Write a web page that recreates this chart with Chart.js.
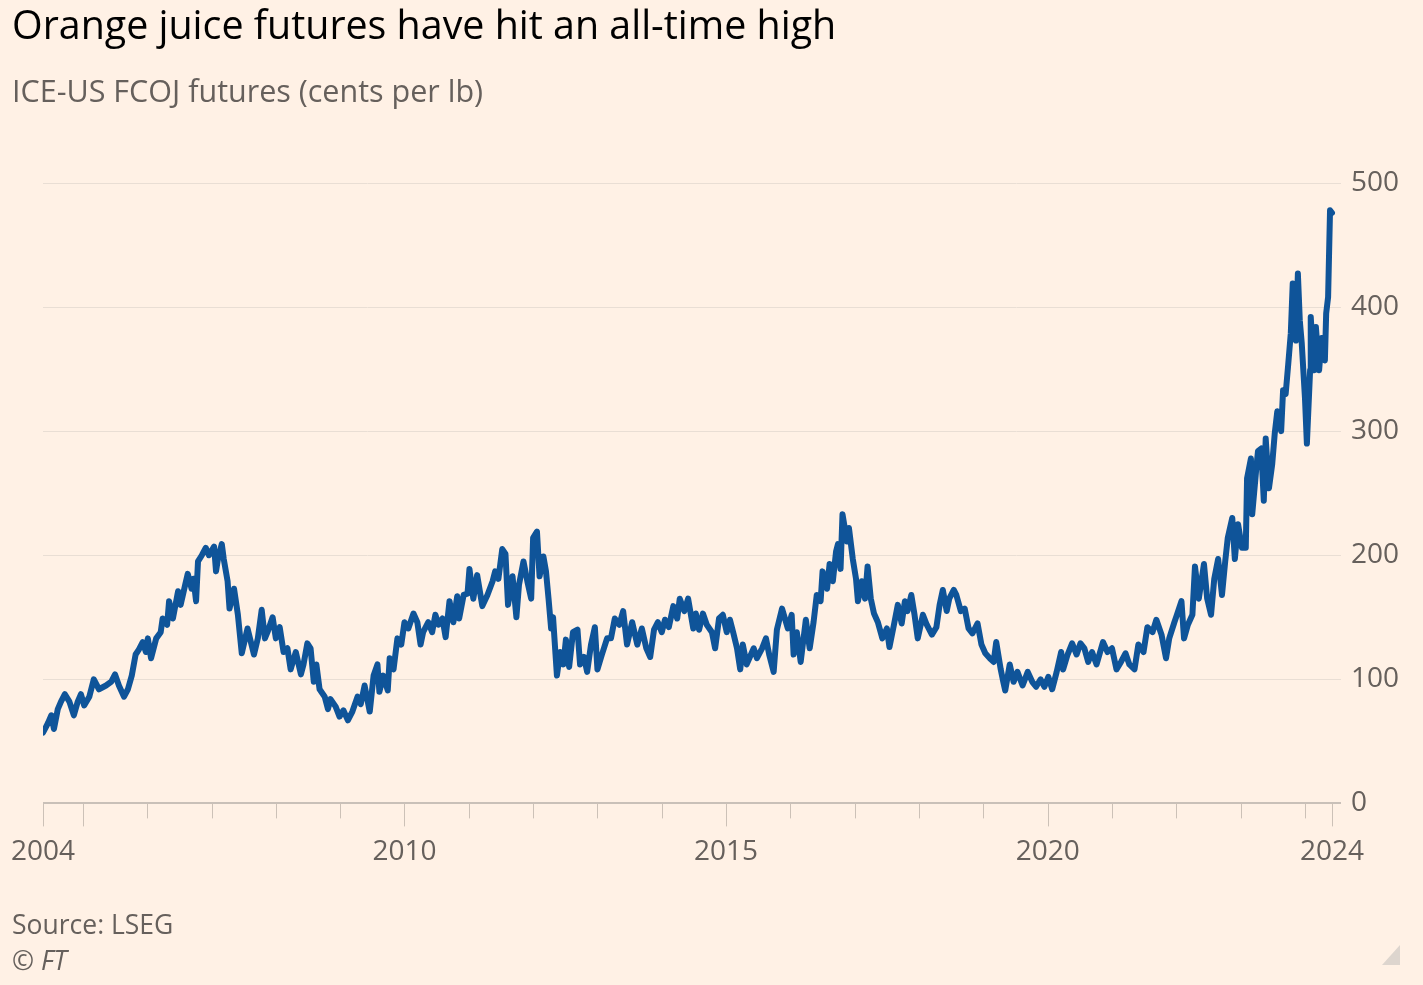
<!DOCTYPE html>
<html lang="en">
<head>
  <meta charset="UTF-8">
  <title>Orange juice futures</title>
  <style>
    body {
      margin: 0;
      width: 1423px;
      height: 985px;
      background: #FFF1E5;
      font-family: "Open Sans", sans-serif;
      overflow: hidden;
      position: relative;
    }
    h1 {
      position: absolute;
      left: 12px;
      top: 0;
      margin: 0;
      font-size: 39.4px;
      font-weight: 400;
      color: #000;
      line-height: 48px;
    }
    #sub {
      position: absolute;
      left: 12px;
      top: 70px;
      font-size: 30.5px;
      color: #66605C;
      line-height: 40px;
    }
    #source {
      position: absolute;
      left: 12px;
      top: 906px;
      font-size: 26.5px;
      color: #66605C;
      line-height: 36px;
    }
    #ft {
      position: absolute;
      left: 12px;
      top: 942px;
      font-size: 26.5px;
      font-style: italic;
      color: #66605C;
      line-height: 36px;
    }
    #corner {
      position: absolute;
      left: 1382px;
      top: 945px;
      width: 0;
      height: 0;
      border-left: 18px solid transparent;
      border-bottom: 20px solid #DDD5CE;
    }
    #wrap {
      position: absolute;
      left: 0;
      top: 0;
      width: 1423px;
      height: 985px;
    }
  </style>
</head>
<body>
  <div id="wrap"><canvas id="chart"></canvas></div>
  <h1>Orange juice futures have hit an all-time high</h1>
  <div id="sub">ICE-US FCOJ futures (cents per lb)</div>
  <div id="source">Source: LSEG</div>
  <div id="ft">© FT</div>
  <div id="corner"></div>

  <script src="https://cdn.jsdelivr.net/npm/chart.js"></script>
  <script>
    // decimal years and prices (cents per lb)
    const years = [
      2004.38, 2004.46, 2004.51, 2004.55, 2004.61, 2004.66, 2004.72, 2004.79, 2004.86, 2004.92,
      2004.97, 2005.02, 2005.10, 2005.17, 2005.25, 2005.36, 2005.44, 2005.50, 2005.56, 2005.64,
      2005.70, 2005.76, 2005.82, 2005.87, 2005.93, 2005.98, 2006.01, 2006.06, 2006.14, 2006.21,
      2006.24, 2006.31, 2006.34, 2006.40, 2006.48, 2006.52, 2006.59, 2006.63, 2006.69, 2006.72,
      2006.76, 2006.79, 2006.85, 2006.91, 2006.96, 2007.04, 2007.07, 2007.10, 2007.16, 2007.19,
      2007.25, 2007.28, 2007.35, 2007.41, 2007.47, 2007.56, 2007.66, 2007.72, 2007.78, 2007.83,
      2007.87, 2007.95, 2008.00, 2008.06, 2008.12, 2008.18, 2008.23, 2008.31, 2008.39, 2008.43,
      2008.49, 2008.54, 2008.59, 2008.63, 2008.68, 2008.76, 2008.81, 2008.85, 2008.93, 2008.99,
      2009.05, 2009.12, 2009.19, 2009.27, 2009.32, 2009.38, 2009.46, 2009.52, 2009.58, 2009.61,
      2009.67, 2009.74, 2009.77, 2009.83, 2009.89, 2009.95, 2010.00, 2010.06, 2010.14, 2010.20,
      2010.25, 2010.29, 2010.37, 2010.43, 2010.48, 2010.53, 2010.59, 2010.64, 2010.70, 2010.76,
      2010.82, 2010.85, 2010.92, 2010.98, 2011.01, 2011.07, 2011.13, 2011.21, 2011.29, 2011.37,
      2011.41, 2011.46, 2011.52, 2011.57, 2011.61, 2011.68, 2011.74, 2011.78, 2011.85, 2011.91,
      2011.97, 2012.00, 2012.06, 2012.10, 2012.16, 2012.20, 2012.24, 2012.28, 2012.31, 2012.37,
      2012.42, 2012.47, 2012.51, 2012.56, 2012.62, 2012.69, 2012.73, 2012.79, 2012.84, 2012.90,
      2012.96, 2013.00, 2013.07, 2013.15, 2013.21, 2013.27, 2013.34, 2013.40, 2013.46, 2013.54,
      2013.62, 2013.69, 2013.76, 2013.82, 2013.88, 2013.94, 2014.00, 2014.05, 2014.11, 2014.18,
      2014.24, 2014.28, 2014.35, 2014.41, 2014.49, 2014.53, 2014.58, 2014.64, 2014.70, 2014.78,
      2014.83, 2014.89, 2014.95, 2015.01, 2015.06, 2015.11, 2015.17, 2015.22, 2015.26, 2015.32,
      2015.37, 2015.43, 2015.48, 2015.56, 2015.62, 2015.67, 2015.74, 2015.79, 2015.87, 2015.91,
      2015.96, 2016.02, 2016.05, 2016.10, 2016.16, 2016.24, 2016.30, 2016.36, 2016.41, 2016.47,
      2016.50, 2016.57, 2016.61, 2016.66, 2016.71, 2016.74, 2016.78, 2016.81, 2016.88, 2016.91,
      2016.97, 2017.02, 2017.05, 2017.11, 2017.16, 2017.20, 2017.25, 2017.30, 2017.36, 2017.43,
      2017.50, 2017.54, 2017.61, 2017.67, 2017.73, 2017.78, 2017.82, 2017.88, 2017.93, 2017.98,
      2018.06, 2018.12, 2018.20, 2018.27, 2018.32, 2018.37, 2018.43, 2018.47, 2018.54, 2018.58,
      2018.65, 2018.71, 2018.77, 2018.83, 2018.91, 2018.97, 2019.03, 2019.10, 2019.16, 2019.20,
      2019.27, 2019.31, 2019.34, 2019.41, 2019.47, 2019.53, 2019.61, 2019.69, 2019.76, 2019.82,
      2019.89, 2019.95, 2020.01, 2020.07, 2020.14, 2020.21, 2020.24, 2020.31, 2020.38, 2020.45,
      2020.51, 2020.57, 2020.63, 2020.69, 2020.76, 2020.86, 2020.93, 2021.00, 2021.07, 2021.14,
      2021.21, 2021.27, 2021.35, 2021.41, 2021.49, 2021.55, 2021.63, 2021.69, 2021.77, 2021.84,
      2021.89, 2021.97, 2022.01, 2022.08, 2022.12, 2022.18, 2022.25, 2022.29, 2022.35, 2022.43,
      2022.48, 2022.54, 2022.59, 2022.65, 2022.71, 2022.76, 2022.80, 2022.87, 2022.91, 2022.96,
      2023.02, 2023.08, 2023.10, 2023.16, 2023.18, 2023.24, 2023.27, 2023.32, 2023.36, 2023.39,
      2023.44, 2023.49, 2023.53, 2023.57, 2023.63, 2023.66, 2023.70, 2023.74, 2023.78, 2023.81,
      2023.86, 2023.89, 2023.92, 2023.95, 2024.00, 2024.03, 2024.08, 2024.09, 2024.14, 2024.17,
      2024.22, 2024.26, 2024.31, 2024.33, 2024.36, 2024.39, 2024.42
    ];
    const prices = [
      57, 65, 71, 60, 76, 82, 88, 82, 71, 82,
      88, 79, 86, 100, 92, 95, 98, 104, 95, 86,
      92, 103, 120, 124, 130, 122, 133, 117, 133, 138,
      149, 144, 163, 149, 171, 160, 176, 185, 173, 181,
      163, 195, 200, 206, 200, 207, 187, 197, 209, 197,
      179, 157, 173, 152, 121, 141, 120, 133, 156, 133,
      138, 150, 133, 142, 122, 125, 108, 122, 104, 112,
      129, 125, 98, 112, 92, 86, 76, 84, 78, 70,
      75, 67, 74, 86, 80, 95, 74, 103, 112, 90,
      103, 91, 117, 108, 133, 128, 146, 141, 153, 146,
      128, 138, 146, 138, 152, 144, 149, 134, 163, 146,
      167, 149, 168, 169, 189, 165, 184, 159, 168, 179,
      187, 181, 205, 201, 160, 183, 150, 176, 195, 179,
      165, 214, 219, 183, 199, 187, 165, 141, 150, 103,
      122, 112, 132, 110, 138, 140, 112, 118, 106, 128,
      142, 108, 120, 133, 133, 149, 144, 155, 128, 146,
      128, 141, 125, 118, 140, 146, 138, 148, 142, 159,
      149, 165, 155, 165, 141, 153, 140, 153, 144, 138,
      125, 149, 152, 138, 148, 138, 125, 108, 128, 112,
      118, 125, 117, 125, 133, 120, 106, 140, 157, 150,
      141, 152, 120, 138, 114, 148, 125, 146, 168, 163,
      187, 173, 193, 179, 203, 209, 189, 233, 211, 222,
      197, 181, 163, 179, 165, 191, 165, 153, 146, 133,
      141, 126, 144, 160, 145, 163, 155, 168, 152, 133,
      152, 144, 136, 142, 160, 172, 155, 165, 172, 168,
      155, 157, 141, 137, 145, 128, 121, 117, 114, 130,
      108, 98, 91, 112, 98, 106, 95, 106, 98, 94,
      100, 94, 102, 92, 106, 122, 108, 120, 129, 120,
      129, 125, 114, 122, 112, 130, 122, 125, 108, 114,
      121, 112, 108, 128, 122, 142, 138, 148, 136, 117,
      133, 146, 152, 163, 133, 144, 152, 191, 165, 193,
      165, 152, 181, 197, 168, 195, 214, 230, 197, 225,
      206, 206, 262, 278, 233, 268, 284, 286, 244, 294,
      254, 273, 298, 316, 300, 333, 330, 354, 379, 419,
      373, 427, 389, 371, 327, 290, 349, 392, 349, 384,
      349, 375, 357, 395, 408, 478, 476
    ];

    // x axis: labelled positions and their text, plus every year tick
    const xStart = 2004.38;
    const xEnd = 2024.42;
    const labelValues = [2004.38, 2010, 2015, 2020, 2024.42];
    const labelText = ['2004', '2010', '2015', '2020', '2024'];
    const yearTicks = [2005, 2006, 2007, 2008, 2009, 2010, 2011, 2012, 2013, 2014,
      2015, 2016, 2017, 2018, 2019, 2020, 2021, 2022, 2023, 2024];
    const longTicks = [2004.38, 2005, 2010, 2015, 2020, 2024.42];
    const yTicks = [0, 100, 200, 300, 400, 500];

    const points = years.map((t, i) => ({ x: t, y: prices[i] }));

    const tickMarks = {
      id: 'tickMarks',
      afterDraw(chart) {
        const xs = chart.scales.x;
        const base = chart.chartArea.bottom;
        const c = chart.ctx;
        c.save();
        c.strokeStyle = '#CCC1B7';
        c.lineWidth = 1;
        const all = [xStart].concat(yearTicks, [xEnd]);
        all.forEach(v => {
          const px = Math.round(xs.getPixelForValue(v)) + 0.5;
          const len = longTicks.includes(v) ? 23 : 15;
          c.beginPath();
          c.moveTo(px, base);
          c.lineTo(px, base + len);
          c.stroke();
        });
        c.restore();
      }
    };

    const ctx = document.getElementById('chart').getContext('2d');
    new Chart(ctx, {
      type: 'line',
      data: {
        datasets: [{
          data: points,
          borderColor: '#0F5499',
          borderWidth: 6,
          borderJoinStyle: 'round',
          borderCapStyle: 'round',
          pointRadius: 0,
          fill: false,
          tension: 0
        }]
      },
      options: {
        responsive: true,
        maintainAspectRatio: false,
        animation: false,
        layout: { padding: { left: 43, right: 14, top: 183, bottom: 84 } },
        plugins: {
          legend: { display: false },
          tooltip: { enabled: false }
        },
        scales: {
          x: {
            type: 'linear',
            min: xStart,
            max: 2024.56,
            grid: { display: false, drawTicks: false },
            border: { display: false },
            afterBuildTicks: s => { s.ticks = labelValues.map(v => ({ value: v })); },
            afterFit: s => { s.paddingLeft = 0; s.paddingRight = 0; },
            ticks: {
              autoSkip: false,
              maxRotation: 0,
              padding: 32,
              color: '#66605C',
              font: { family: 'Open Sans', size: 28 },
              callback: v => labelText[labelValues.indexOf(v)]
            }
          },
          y: {
            position: 'right',
            min: 0,
            max: 500,
            afterBuildTicks: s => { s.ticks = yTicks.map(v => ({ value: v })); },
            afterFit: s => { s.paddingTop = 0; s.paddingBottom = 0; },
            grid: {
              drawTicks: false,
              color: c => c.tick.value === 0 ? '#C9C0B8' : '#E9DED4',
              lineWidth: c => c.tick.value === 0 ? 2 : 1
            },
            border: { display: false },
            ticks: {
              padding: 10,
              color: '#66605C',
              font: { family: 'Open Sans', size: 28 }
            }
          }
        }
      },
      plugins: [tickMarks]
    });
  </script>
</body>
</html>
